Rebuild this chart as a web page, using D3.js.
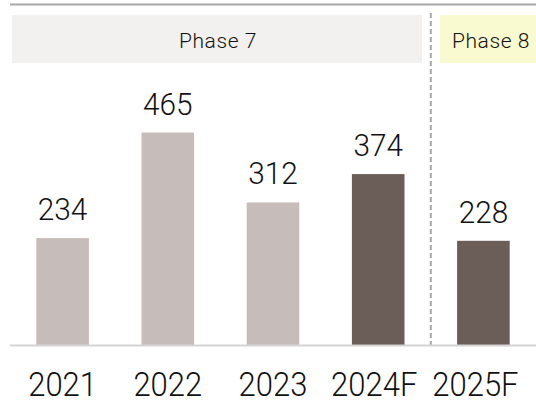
<!DOCTYPE html>
<html><head><meta charset="utf-8">
<script src="https://cdn.jsdelivr.net/npm/d3@7"></script>
<style>body{margin:0;background:#fff}svg{display:block}</style>
</head><body>
<script>
const categories = ["2021","2022","2023","2024F","2025F"];
const values = [234,465,312,374,228];
const forecast = [false,false,false,true,true];
const phases = [{label:"Phase 7", from:"2021", to:"2024F"},{label:"Phase 8", from:"2025F", to:"2025F"}];

const W=536,H=401;
const svg=d3.select("body").append("svg").attr("width",W).attr("height",H);
const x=d3.scaleBand().domain(categories).range([10,536]).paddingInner(0.5).paddingOuter(0.25);
const y=d3.scaleLinear().domain([0,465]).range([345,132.5]);
const font="Roboto";

// top rule
svg.append("line").attr("x1",10).attr("x2",W).attr("y1",4.5).attr("y2",4.5).attr("stroke","#a8a8a8").attr("stroke-width",2);

// phase boxes
const p7x0=12,p7x1=422,p8x0=440,p8x1=545;
svg.append("rect").attr("x",p7x0).attr("y",15).attr("width",p7x1-p7x0).attr("height",48).attr("fill","#f2f1ef");
svg.append("rect").attr("x",p8x0).attr("y",15).attr("width",p8x1-p8x0).attr("height",48).attr("fill","#fafad0");
svg.append("text").attr("x",218).attr("y",48).attr("text-anchor","middle").attr("font-family",font).attr("font-weight",300)
  .attr("font-size",21).attr("letter-spacing",0.6).attr("fill","#111").text(phases[0].label);
svg.append("text").attr("x",491).attr("y",48).attr("text-anchor","middle").attr("font-family",font).attr("font-weight",300)
  .attr("font-size",21).attr("letter-spacing",0.6).attr("fill","#111").text(phases[1].label);

// dashed separator
const sepX=(x("2024F")+x.bandwidth()+x("2025F"))/2;
svg.append("line").attr("x1",sepX).attr("x2",sepX).attr("y1",13).attr("y2",345).attr("stroke","#a8a8a8").attr("stroke-width",2).attr("stroke-dasharray","5,3");

// bars
svg.selectAll("rect.bar").data(categories).join("rect").attr("class","bar")
  .attr("x",d=>x(d)).attr("width",x.bandwidth())
  .attr("y",(d,i)=>y(values[i])).attr("height",(d,i)=>y(0)-y(values[i]))
  .attr("fill",(d,i)=>forecast[i]?"#6b5d57":"#c6bdba");

// baseline
svg.append("line").attr("x1",10).attr("x2",W).attr("y1",345.5).attr("y2",345.5).attr("stroke","#d4d4d4").attr("stroke-width",2);

// value labels
svg.selectAll("text.val").data(categories).join("text").attr("class","val")
  .attr("transform",(d,i)=>`translate(${x(d)+x.bandwidth()/2},${y(values[i])-18}) scale(0.93,1)`)
  .attr("text-anchor","middle").attr("font-family",font).attr("font-weight",300).attr("font-size",32).attr("fill","#111")
  .text((d,i)=>values[i]);

// axis labels
const ax=svg.append("g").attr("transform","translate(0,396)").call(d3.axisBottom(x).tickSize(0).tickPadding(0));
ax.select(".domain").remove();
ax.selectAll("text").attr("font-family",font).attr("font-weight",300).attr("font-size",33).attr("fill","#111")
  .attr("dy",0).attr("y",0).attr("transform","scale(0.94,1)");
ax.selectAll(".tick").each(function(d){
  const t=d3.select(this); const cx=x(d)+x.bandwidth()/2 + (d==="2024F"?-4:d==="2025F"?-8:0);
  t.attr("transform",`translate(${cx},0)`);
});
</script>
</body></html>
